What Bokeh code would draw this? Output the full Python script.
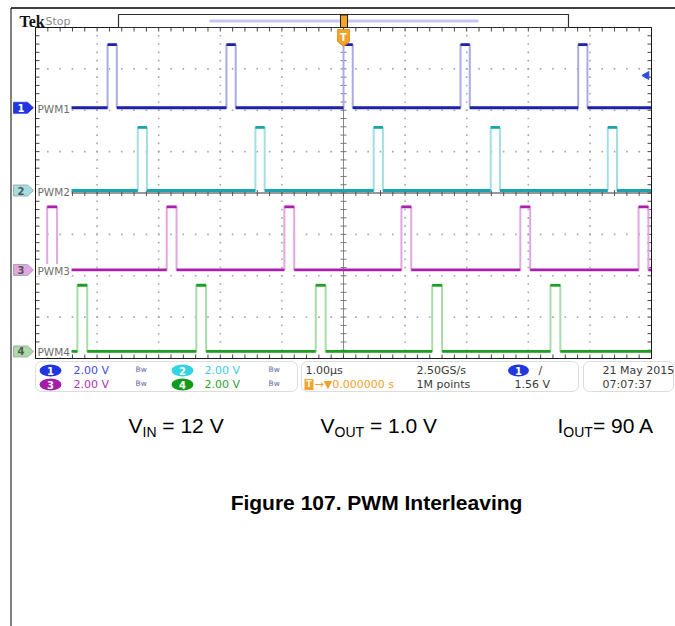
import numpy as np
from bokeh.plotting import figure
from bokeh.models import Range1d, BoxAnnotation
from bokeh.core.properties import value
from bokeh.embed import file_html
from bokeh.resources import INLINE

# ---------------- data ----------------
ch_names = ["PWM1", "PWM2", "PWM3", "PWM4"]
ch_offset_div = [2.06, 0.06, -1.86, -3.83]          # channel ground position (divisions)
ch_high_volts = [3.05, 3.05, 3.05, 3.2]              # pulse amplitude (V)
pwm1_rise_us = [-3.83, -1.90, 0.00, 1.90, 3.81]
pwm2_rise_us = [-3.34, -1.43, 0.49, 2.39, 4.29]
pwm3_rise_us = [-4.81, -2.87, -0.96, 0.94, 2.87, 4.79]
pwm4_rise_us = [-4.32, -2.39, -0.45, 1.44, 3.36]
pulse_width_us = [0.15, 0.15, 0.16, 0.16]
volts_per_div = [2.00, 2.00, 2.00, 2.00]
time_per_div_us = 1.00
sample_rate = "2.50GS/s"
record_length = "1M points"
trigger_level_v = 1.56
trigger_delay = "0.000000 s"
date_text = "21 May 2015"
time_text = "07:07:37"
cond_labels = [("V", "IN", "\u00a0= 12 V"), ("V", "OUT", "\u00a0= 1.0 V"), ("I", "OUT", "= 90 A")]
caption = "Figure 107. PWM Interleaving"

dark = ["#1e22a8", "#1aa4ae", "#ae1eae", "#1e9e22"]
light = ["#a9abe6", "#a2dfe3", "#e2a6e2", "#a8dca8"]
stat_col = ["#4848ee", "#3ccfe0", "#b030b8", "#2ea030"]
badge_fill = ["#2236e0", "#32d4e4", "#a41ea8", "#129a1c"]

# ---------------- layout helpers (page pixel -> scope units) ----------------
def X(px):
    return (px - 343.0) / 61.6


def Y(py):
    return (192.5 - py) / 41.375


W, H = 675, 626
p = figure(width=W, height=H, x_range=Range1d(X(0), X(W)), y_range=Range1d(Y(H), Y(0)),
           output_backend="svg", toolbar_location=None, x_axis_location=None, y_axis_location=None,
           min_border=0, outline_line_color=None)
p.grid.grid_line_color = None
p.background_fill_color = "white"
p.border_fill_color = "white"

SANS = value("DejaVu Sans")


def txt(px, py, s, size=11, color="#333333", font="DejaVu Sans", style="normal", align="left",
        baseline="middle"):
    p.text(x=[X(px)], y=[Y(py)], text=[s], text_font=value(font), text_font_size=f"{size}px",
           text_color=color, text_font_style=style, text_align=align, text_baseline=baseline)


# page frame lines
p.segment(x0=[X(10.5)], y0=[Y(7.5)], x1=[X(675)], y1=[Y(7.5)], line_color="black", line_width=1.5)
p.segment(x0=[X(10.5)], y0=[Y(7.5)], x1=[X(10.5)], y1=[Y(626)], line_color="black", line_width=1)

# ---------------- graticule ----------------
hx = np.round(np.arange(-5, 5.001, 0.2), 3)
vy = np.round(np.arange(-4, 4.001, 0.2), 3)
gx, gy = [], []
for d in [-3, -2, -1, 1, 2, 3]:
    gx += list(hx[1:-1]); gy += [d] * (len(hx) - 2)
for t in [-4, -3, -2, -1, 1, 2, 3, 4]:
    gx += [t] * (len(vy) - 2); gy += list(vy[1:-1])
p.scatter(gx, gy, marker="square", size=1.6, fill_color="#a6a6a6", line_color=None)

# center cross
p.segment(x0=[0], y0=[-4], x1=[0], y1=[4], line_color="#8a8a8a", line_width=1)
p.segment(x0=[-5], y0=[0], x1=[5], y1=[0], line_color="#303030", line_width=1)
tl_x = 3 / 61.6
tl_y = 3 / 41.375
p.segment(x0=hx, y0=-tl_y, x1=hx, y1=tl_y, line_color="#555555", line_width=1)
p.segment(x0=-tl_x, y0=vy, x1=tl_x, y1=vy, line_color="#777777", line_width=1)
# border ticks
bx = 4 / 61.6
by = 4 / 41.375
p.segment(x0=hx, y0=4, x1=hx, y1=4 - by, line_color="#444444", line_width=1)
p.segment(x0=hx, y0=-4, x1=hx, y1=-4 + by, line_color="#444444", line_width=1)
p.segment(x0=-5, y0=vy, x1=-5 + bx, y1=vy, line_color="#444444", line_width=1)
p.segment(x0=5, y0=vy, x1=5 - bx, y1=vy, line_color="#444444", line_width=1)

# ---------------- traces ----------------
rises = [pwm1_rise_us, pwm2_rise_us, pwm3_rise_us, pwm4_rise_us]
for i in range(4):
    b = ch_offset_div[i]
    h = b + ch_high_volts[i] / volts_per_div[i]
    w = pulse_width_us[i]
    xs, ys = [-5.0], [b]
    lo0, lo1, hi0, hi1 = [], [], [], []
    prev = -5.0
    for r in rises[i]:
        xs += [r, r, r + w, r + w]
        ys += [b, h, h, b]
        lo0.append(prev); lo1.append(r)
        hi0.append(r); hi1.append(r + w)
        prev = r + w
    xs.append(5.0); ys.append(b)
    lo0.append(prev); lo1.append(5.0)
    p.line(xs, ys, line_color=light[i], line_width=2)
    p.segment(x0=lo0, y0=b, x1=lo1, y1=b, line_color=dark[i], line_width=2.8)
    p.segment(x0=hi0, y0=h, x1=hi1, y1=h, line_color=dark[i], line_width=2.8)

# scope frame
p.quad(left=[-5], right=[5], bottom=[-4], top=[4], fill_color=None, line_color="#1a1a1a", line_width=1)

# channel labels / ground markers
for i in range(4):
    b = ch_offset_div[i]
    p.quad(left=[X(35.5)], right=[X(71)], bottom=[b - 6 / 41.375], top=[b + 6 / 41.375],
           fill_color="white", line_color=None)
    dy = 5.5 / 41.375
    p.patch([X(13), X(27), X(33), X(27), X(13)], [b + dy, b + dy, b, b - dy, b - dy],
            fill_color=badge_fill[i] if i == 0 else light[i], line_color=badge_fill[i] if i == 0 else "#9a9a9a",
            line_width=0.8)
    p.text(x=[X(20.5)], y=[b], text=[str(i + 1)], text_font=SANS, text_font_size="10px",
           text_color="white" if i == 0 else "#555555", text_font_style="bold", text_align="center",
           text_baseline="middle")
    p.text(x=[X(37)], y=[b - 1 / 41.375], text=[ch_names[i]], text_font=SANS, text_font_size="10.5px",
           text_color="#6e6e6e", text_align="left", text_baseline="middle")

# trigger level arrow (ch1)
trig_div = ch_offset_div[0] + trigger_level_v / volts_per_div[0]
p.scatter([X(646)], [trig_div], marker="triangle", angle=np.pi / 2, size=8, fill_color="#2b4be0",
          line_color="#2b4be0")

# ---------------- header ----------------
txt(19, 21, "Tek", size=16, color="#111111", font="Liberation Serif", style="bold")
txt(45, 21, "Stop", size=11, color="#8a8a8a")
p.quad(left=[X(118)], right=[X(568)], top=[Y(14)], bottom=[Y(27)], fill_color="white",
       line_color="#303030", line_width=1.2)
p.segment(x0=[X(209)], y0=[Y(20.5)], x1=[X(478)], y1=[Y(20.5)], line_color="#c6c6f2", line_width=3)
p.quad(left=[X(340)], right=[X(347)], top=[Y(14.5)], bottom=[Y(27)], fill_color="#f2a32a",
       line_color="#222222", line_width=1)
p.patch([X(337), X(349), X(349), X(343), X(337)], [Y(29), Y(29), Y(41), Y(46), Y(41)],
        fill_color="#f2a32a", line_color="#e08a10", line_width=0.8)
txt(343, 36.5, "T", size=10, color="white", style="bold", align="center")

# ---------------- status boxes ----------------
for l, r in [(35, 297), (301, 578), (583, 673)]:
    p.add_layout(BoxAnnotation(left=X(l), right=X(r), top=Y(361), bottom=Y(391), fill_color="white",
                               fill_alpha=1, line_color="#8c8c8c", line_width=1, border_radius=6,
                               level="underlay"))

rows = [370, 384]
pos = [(50, 73, 135), (182, 204, 268)]
for i in range(4):
    ry = rows[i // 2]
    ex, tx, bwx = pos[i % 2]
    p.ellipse(x=[X(ex)], y=[Y(ry)], width=22 / 61.6, height=12 / 41.375, fill_color=badge_fill[i],
              line_color=None)
    p.text(x=[X(ex)], y=[Y(ry)], text=[str(i + 1)], text_font=SANS, text_font_size="10px",
           text_color="white", text_font_style="bold", text_align="center", text_baseline="middle")
    p.text(x=[X(tx)], y=[Y(ry)], text=[f"{volts_per_div[i]:.2f} V"], text_font=SANS,
           text_font_size="11px", text_color=stat_col[i], text_align="left", text_baseline="middle")
    p.text(x=[X(bwx)], y=[Y(ry - 1)], text=["Bw"], text_font=SANS, text_font_size="7.5px",
           text_color="#6a6aa8", text_align="left", text_baseline="middle")


def stxt(px, py, s, color="#3a3a3a", size=11, style="normal", align="left"):
    p.text(x=[X(px)], y=[Y(py)], text=[s], text_font=SANS, text_font_size=f"{size}px", text_color=color,
           text_font_style=style, text_align=align, text_baseline="middle")


stxt(305, 370, f"{time_per_div_us:.2f}µs")
stxt(416, 370, sample_rate)
p.ellipse(x=[X(518)], y=[Y(370)], width=21 / 61.6, height=12 / 41.375, fill_color=badge_fill[0],
          line_color=None)
stxt(518, 370, "1", color="white", size=10, style="bold", align="center")
stxt(538, 370, "/", color="#3a3a3a")
p.quad(left=[X(304)], right=[X(313)], top=[Y(378.5)], bottom=[Y(389.5)], fill_color="#f2a32a",
       line_color=None)
stxt(308.5, 384, "T", color="white", size=8, style="bold", align="center")
stxt(314, 384, "→▼" + trigger_delay, color="#f0a030")
stxt(416, 384, record_length)
stxt(514, 384, f"{trigger_level_v:.2f} V")
stxt(602, 370, date_text)
stxt(602, 384, time_text)

# ---------------- conditions & caption ----------------
FONT = "Liberation Sans"
MAIN, SUB = 21, 14
adv = {"V": 0.667, "I": 0.278, "IN": 1.0, "OUT": 2.111}
for (main, sub, rest), x0 in zip(cond_labels, [128, 320, 557]):
    txt(x0, 425, main, size=MAIN, color="black", font=FONT, baseline="alphabetic")
    xs = x0 + adv[main] * MAIN
    txt(xs, 431, sub, size=SUB, color="black", font=FONT, baseline="alphabetic")
    txt(xs + adv[sub] * SUB, 425, rest, size=MAIN, color="black", font=FONT, baseline="alphabetic")

txt(376, 502, caption, size=21, color="black", font=FONT, style="bold", align="center",
    baseline="alphabetic")

open("out.html", "w").write(file_html(p, INLINE))
